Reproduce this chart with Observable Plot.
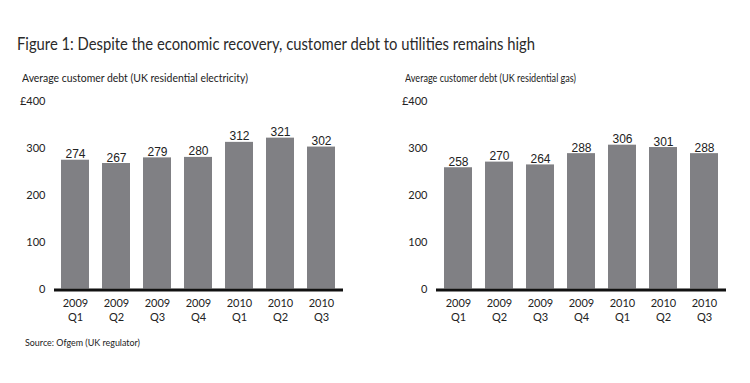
<!DOCTYPE html>
<html>
<head>
<meta charset="utf-8">
<script src="https://cdn.jsdelivr.net/npm/d3@7"></script>
<script src="https://cdn.jsdelivr.net/npm/@observablehq/plot@0.6"></script>
<style>
  body { margin: 0; background: #fff; }
  #wrap { position: relative; width: 750px; height: 383px; background: #fff; font-family: Lato, "Noto Sans", sans-serif; color: #222; overflow: hidden; }
  .txt { position: absolute; white-space: nowrap; line-height: 1; transform-origin: 0 0; }
  .chart { position: absolute; top: 60px; }
</style>
</head>
<body>
<div id="wrap">
  <div class="txt" id="title" style="left:16.5px; top:34.5px; font-size:17.5px; color:#2a2a2a;" data-w="518">Figure 1: Despite the economic recovery, customer debt to utilities remains high</div>
  <div class="txt" id="sub1" style="left:22px; top:73px; font-size:10.5px;" data-w="226">Average customer debt (UK residential electricity)</div>
  <div class="txt" id="sub2" style="left:405px; top:73px; font-size:10.5px;" data-w="171">Average customer debt (UK residential gas)</div>
  <div class="chart" id="c1" style="left:0px;"></div>
  <div class="chart" id="c2" style="left:375px;"></div>
  <div class="txt" id="src" style="left:25px; top:336.8px; font-size:10px;" data-w="115">Source: Ofgem (UK regulator)</div>
</div>
<script>
const quarters = ["2009 Q1", "2009 Q2", "2009 Q3", "2009 Q4", "2010 Q1", "2010 Q2", "2010 Q3"];
const electricity = [274, 267, 279, 280, 312, 321, 302];
const gas = [258, 270, 264, 288, 306, 301, 288];
const yTicks = [0, 100, 200, 300, 400];

function chart(values, marginLeft, marginRight) {
  const data = quarters.map((q, i) => ({q, v: values[i]}));
  return Plot.plot({
    width: 375,
    height: 270,
    marginTop: 40.5,
    marginBottom: 41.5,
    marginLeft,
    marginRight,
    style: {fontFamily: "Lato, 'Noto Sans', sans-serif", fontSize: "11px", color: "#222", background: "transparent"},
    x: {domain: quarters, type: "band", paddingInner: 0.31, paddingOuter: 0.17, axis: null},
    y: {domain: [0, 400], axis: null},
    marks: [
      Plot.barY(data, {x: "q", y: "v", fill: "#808084"}),
      Plot.ruleY([0], {stroke: "#111", strokeWidth: 3, dy: 1}),
      Plot.text(data, {x: "q", y: "v", text: d => String(d.v), dy: -2, lineAnchor: "bottom",
        fontFamily: "'Liberation Sans Narrow', 'Liberation Sans', Arial, sans-serif", fontSize: 12, fill: "#222"}),
      Plot.axisY({ticks: yTicks, tickSize: 0, tickPadding: 9, label: null,
        tickFormat: d => d === 400 ? "£400" : String(d), fontSize: 11}),
      Plot.axisX({tickSize: 0, tickPadding: 8.5, label: null, lineHeight: 1.27,
        tickFormat: d => d.replace(" ", "\n"), fontSize: 11})
    ]
  });
}

document.getElementById("c1").appendChild(chart(electricity, 54, 32));
document.getElementById("c2").appendChild(chart(gas, 61, 24));

document.querySelectorAll(".txt[data-w]").forEach(el => {
  const w = el.getBoundingClientRect().width;
  const target = +el.dataset.w;
  if (w > 0) el.style.transform = `scaleX(${target / w})`;
});
</script>
</body>
</html>
